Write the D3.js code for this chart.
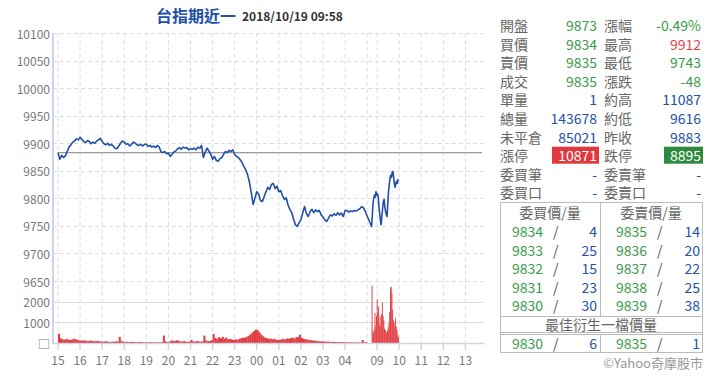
<!DOCTYPE html>
<html>
<head>
<meta charset="utf-8">
<title>台指期近一</title>
<script src="https://d3js.org/d3.v7.min.js"></script>
<style>
    body { margin: 0; background: #fff; }
    svg { display: block; font-family: "Noto Sans CJK TC", "Noto Sans", sans-serif; }
</style>
</head>
<body>
<div id="container"></div>
<script>
// Night session price, every 5 minutes from 15:00
const nightStart = "15:00"
const nightPrice = [
    9883, 9871, 9878, 9874, 9877, 9885, 9893, 9897, 9902, 9904, 9908, 9906,
    9911, 9907, 9903, 9901, 9905, 9903, 9899, 9902, 9900, 9904, 9906, 9909,
    9903, 9899, 9897, 9900, 9896, 9898, 9895, 9891, 9890, 9895, 9900, 9904,
    9902, 9898, 9899, 9895, 9898, 9902, 9900, 9897, 9896, 9898, 9895, 9898,
    9898, 9894, 9896, 9893, 9895, 9892, 9896, 9893, 9884, 9883, 9885, 9881,
    9882, 9876, 9880, 9884, 9886, 9890, 9892, 9889, 9893, 9891, 9892, 9888,
    9890, 9889, 9891, 9888, 9893, 9891, 9896, 9874, 9884, 9891, 9886, 9880,
    9871, 9876, 9869, 9867, 9872, 9874, 9880, 9885, 9883, 9887, 9885, 9888,
    9880, 9876, 9874, 9870, 9865, 9858, 9852, 9843, 9830, 9811, 9789, 9800,
    9812, 9808, 9796, 9794, 9803, 9812, 9820, 9816, 9825, 9827, 9818, 9822,
    9812, 9814, 9805, 9798, 9801, 9788, 9780, 9774, 9762, 9752, 9749, 9756,
    9761, 9774, 9785, 9772, 9767, 9776, 9780, 9774, 9779, 9776, 9778, 9770,
    9766, 9761, 9758, 9764, 9770, 9768, 9772, 9769, 9774, 9770, 9773, 9767,
    9778, 9778, 9775, 9777, 9776, 9778, 9777, 9779, 9781, 9785, 9783, 9776,
    9768
]
// Night session volume, every 5 minutes from 15:00
const nightVolume = [
    450, 220, 180, 150, 200, 170, 140, 160, 210, 180, 150, 130,
    120, 110, 130, 100, 90, 120, 100, 80, 90, 110, 80, 70,
    60, 70, 80, 60, 50, 70, 60, 80, 70, 300, 90, 60,
    50, 60, 40, 50, 60, 45, 40, 35, 50, 40, 30, 40,
    30, 35, 40, 30, 25, 35, 30, 40, 30, 360, 80, 40,
    60, 120, 100, 90, 130, 110, 80, 70, 100, 60, 50, 70,
    150, 80, 60, 100, 70, 60, 80, 360, 120, 90, 100, 130,
    440, 250, 200, 280, 230, 300, 220, 260, 180, 200, 170, 150,
    180, 150, 200, 230, 260, 250, 300, 350, 420, 500, 580, 650,
    620, 520, 400, 320, 260, 230, 200, 220, 180, 200, 160, 150,
    150, 180, 200, 170, 220, 200, 240, 260, 220, 280, 300, 400,
    240, 200, 180, 160, 150, 130, 120, 110, 100, 90, 80, 80,
    70, 60, 70, 60, 50, 60, 50, 45, 50, 40, 45, 40,
    30, 35, 30, 30, 25, 30, 25, 30, 25, 140, 30, 40
]
// Day session, every 2 minutes from 08:45
const dayStart = "08:45"
const dayPrice = [
    9749, 9770, 9792, 9800, 9806, 9802, 9812, 9806, 9808, 9803, 9785, 9772,
    9760, 9752, 9768, 9782, 9794, 9798, 9785, 9776, 9770, 9767, 9790, 9812,
    9825, 9836, 9842, 9838, 9847, 9849, 9838, 9826, 9820, 9828, 9831, 9827,
    9834, 9835
]
const dayVolume = [
    2780, 600, 500, 650, 1460, 800, 1300, 2100, 1500, 1760, 900, 1270,
    800, 1400, 1950, 1300, 1120, 700, 630, 550, 490, 600, 750, 975,
    1500, 2680, 2730, 2400, 1610, 1100, 800, 975, 1200, 780, 600, 390,
    300
]
const prevClose = 9883

const priceTicks = [10100, 10050, 10000, 9950, 9900, 9850, 9800, 9750, 9700, 9650]
const volumeTicks = [2000, 1000, 0]
const volumeTickLabels = ["2000", "1000", "□"]
const xTicks = ["15:00", "16:00", "17:00", "18:00", "19:00", "20:00", "21:00", "22:00", "23:00",
    "00:00", "01:00", "02:00", "03:00", "04:00", "09:00", "10:00", "11:00", "12:00", "13:00"]

const title = "台指期近一"
const stamp = "2018/10/19 09:58"

const infoLabelsL = ["開盤", "買價", "賣價", "成交", "單量", "總量", "未平倉", "漲停", "委買筆", "委買口"]
const infoValuesL = ["9873", "9834", "9835", "9835", "1", "143678", "85021", "10871", "-", "-"]
const infoLabelsR = ["漲幅", "最高", "最低", "漲跌", "約高", "約低", "昨收", "跌停", "委賣筆", "委賣口"]
const infoValuesR = ["-0.49%", "9912", "9743", "-48", "11087", "9616", "9883", "8895", "-", "-"]
const infoColorsL = ["g", "g", "g", "g", "b", "b", "b", "boxR", "b", "b"]
const infoColorsR = ["g", "r", "g", "g", "b", "b", "b", "boxG", "b", "b"]

const bidPrices = ["9834", "9833", "9832", "9831", "9830"]
const bidQty = ["4", "25", "15", "23", "30"]
const askPrices = ["9835", "9836", "9837", "9838", "9839"]
const askQty = ["14", "20", "22", "25", "38"]
const bestHeader = "最佳衍生一檔價量"
const bestBid = ["9830", "6"]
const bestAsk = ["9835", "1"]

// session minutes: night 15:00-05:00, short gap, day from 08:45
const toT = s => {
    const [h, m] = s.split(":").map(Number)
    if (h >= 15) return (h - 15) * 60 + m
    if (h < 8) return (h + 9) * 60 + m
    return 852 + (h * 60 + m - 525)
}

const w = 720, h = 376
const colors = { g: "#3b9a4b", r: "#e8424a", b: "#2352a8", grey: "#666" }

const svg = d3.select("#container").append("svg")
    .attr("width", w)
    .attr("height", h)

const xScale = d3.scaleLinear().domain([0, 1152]).range([58, 482])
const yScale = d3.scaleLinear().domain([9650, 10100]).range([281, 33])
const vScale = d3.scaleLinear().domain([0, 3000]).range([343, 281])

// build series
const t0 = toT(nightStart), d0 = toT(dayStart)
const priceData = nightPrice.map((v, i) => [t0 + i * 5, v])
    .concat(dayPrice.map((v, i) => [d0 + Math.min(i * 2, 73), v]))
const volData = nightVolume.map((v, i) => ({ t: t0 + i * 5, v: v, span: 5 }))
    .concat(dayVolume.map((v, i) => ({ t: d0 + i * 2, v: v, span: 2 })))

// Grid
const gridX = xTicks.map(toT).concat([toT("05:00")])
svg.append("g").selectAll("line").data(gridX).enter().append("line")
    .attr("x1", d => xScale(d)).attr("x2", d => xScale(d))
    .attr("y1", 33).attr("y2", 343)
    .attr("stroke", "#ddd").attr("stroke-dasharray", "4,3")

svg.append("g").selectAll("line").data(priceTicks).enter().append("line")
    .attr("x1", 53).attr("x2", 484)
    .attr("y1", d => Math.round(yScale(d)) + 0.5).attr("y2", d => Math.round(yScale(d)) + 0.5)
    .attr("stroke", "#ddd").attr("stroke-dasharray", "4,3")

svg.append("g").selectAll("line").data(volumeTicks.slice(0, 2)).enter().append("line")
    .attr("x1", 53).attr("x2", 484)
    .attr("y1", d => Math.round(vScale(d)) + 0.5).attr("y2", d => Math.round(vScale(d)) + 0.5)
    .attr("stroke", "#ddd")

// Axis labels
svg.append("g").selectAll("text").data(priceTicks).enter().append("text")
    .attr("x", 50).attr("y", d => yScale(d))
    .attr("text-anchor", "end").attr("dominant-baseline", "central")
    .attr("font-size", 12).attr("fill", "#777")
    .text(d => d)

svg.append("g").selectAll("text").data(volumeTicks).enter().append("text")
    .attr("x", 50).attr("y", d => vScale(d))
    .attr("text-anchor", "end").attr("dominant-baseline", "central")
    .attr("font-size", 12).attr("fill", "#777")
    .text((d, i) => volumeTickLabels[i])

// Volume bars
svg.append("g").selectAll("rect").data(volData).enter().append("rect")
    .attr("x", d => xScale(d.t))
    .attr("width", d => xScale(d.t + d.span) - xScale(d.t) + 0.2)
    .attr("y", d => vScale(d.v))
    .attr("height", d => vScale(0) - vScale(d.v))
    .attr("fill", "#e23c40")

// Previous close line
svg.append("line")
    .attr("x1", xScale(0)).attr("x2", 482)
    .attr("y1", yScale(prevClose)).attr("y2", yScale(prevClose))
    .attr("stroke", "#999").attr("stroke-width", 1.2)

// Price line
const line = d3.line().x(d => xScale(d[0])).y(d => yScale(d[1]))
svg.append("path")
    .datum(priceData)
    .attr("d", line)
    .attr("fill", "none")
    .attr("stroke", "#2150a8")
    .attr("stroke-width", 1.6)
    .attr("stroke-linejoin", "round")

// Axis lines
svg.append("line").attr("x1", 53).attr("x2", 53).attr("y1", 33).attr("y2", 344)
    .attr("stroke", "#cbd6ec").attr("stroke-width", 2)
svg.append("line").attr("x1", 53).attr("x2", 484).attr("y1", 343.5).attr("y2", 343.5)
    .attr("stroke", "#cbd6ec").attr("stroke-width", 1.5)

const xt = svg.append("g").selectAll("g").data(xTicks).enter().append("g")
    .attr("transform", d => "translate(" + xScale(toT(d)) + ",0)")
xt.append("line").attr("y1", 344).attr("y2", 350).attr("stroke", "#cbd6ec").attr("stroke-width", 1.5)
xt.append("text").attr("y", 359).attr("text-anchor", "middle").attr("dominant-baseline", "central")
    .attr("font-size", 12).attr("fill", "#777")
    .text(d => d.slice(0, 2))

// Title
const tt = svg.append("text").attr("x", 156).attr("y", 15).attr("dominant-baseline", "central")
tt.append("tspan").attr("font-size", 16).attr("font-weight", "bold").attr("fill", "#2150a8").text(title)
tt.append("tspan").attr("dx", 6).attr("font-size", 12).attr("font-weight", "bold").attr("fill", "#333").text(stamp)

// Info panel
const rowY = i => 25 + i * 18.6
const info = svg.append("g").attr("font-size", 14)
const drawValue = (x0, x1, y, val, c) => {
    if (c === "boxR" || c === "boxG") {
        info.append("rect").attr("x", x0).attr("y", y - 8.5).attr("width", x1 - x0 + 2).attr("height", 17)
            .attr("fill", c === "boxR" ? "#e0393e" : "#2e8b3e")
        info.append("text").attr("x", x1).attr("y", y).attr("text-anchor", "end")
            .attr("dominant-baseline", "central").attr("fill", "#fff").text(val)
    } else {
        info.append("text").attr("x", x1).attr("y", y).attr("text-anchor", "end")
            .attr("dominant-baseline", "central").attr("fill", colors[c]).text(val)
    }
}
infoLabelsL.forEach((lab, i) => {
    info.append("text").attr("x", 500).attr("y", rowY(i)).attr("dominant-baseline", "central")
        .attr("fill", colors.grey).text(lab)
    drawValue(552, 597, rowY(i), infoValuesL[i], infoColorsL[i])
    info.append("text").attr("x", 604).attr("y", rowY(i)).attr("dominant-baseline", "central")
        .attr("fill", colors.grey).text(infoLabelsR[i])
    drawValue(664, 701, rowY(i), infoValuesR[i], infoColorsR[i])
})

// Bid / ask table
const tb = svg.append("g").attr("font-size", 14)
tb.append("rect").attr("x", 500.5).attr("y", 202.5).attr("width", 202).attr("height", 150)
    .attr("fill", "none").attr("stroke", "#bbb")
tb.append("line").attr("x1", 600.5).attr("x2", 600.5).attr("y1", 202.5).attr("y2", 316.5).attr("stroke", "#bbb")
tb.append("line").attr("x1", 600.5).attr("x2", 600.5).attr("y1", 334).attr("y2", 352.5).attr("stroke", "#bbb")
tb.append("line").attr("x1", 500.5).attr("x2", 702.5).attr("y1", 316.5).attr("y2", 316.5).attr("stroke", "#bbb")
tb.append("line").attr("x1", 500.5).attr("x2", 702.5).attr("y1", 332.5).attr("y2", 332.5).attr("stroke", "#bbb")
tb.append("line").attr("x1", 500.5).attr("x2", 702.5).attr("y1", 334.5).attr("y2", 334.5).attr("stroke", "#bbb")

tb.append("text").attr("x", 550).attr("y", 212).attr("text-anchor", "middle").attr("dominant-baseline", "central")
    .attr("fill", colors.grey).text("委買價/量")
tb.append("text").attr("x", 651).attr("y", 212).attr("text-anchor", "middle").attr("dominant-baseline", "central")
    .attr("fill", colors.grey).text("委賣價/量")

const quoteRow = (y, bp, bq, ap, aq) => {
    tb.append("text").attr("x", 512).attr("y", y).attr("dominant-baseline", "central").attr("fill", colors.g).text(bp)
    tb.append("text").attr("x", 553).attr("y", y).attr("dominant-baseline", "central").attr("fill", "#555").text("/")
    tb.append("text").attr("x", 597).attr("y", y).attr("text-anchor", "end").attr("dominant-baseline", "central").attr("fill", colors.b).text(bq)
    tb.append("text").attr("x", 616).attr("y", y).attr("dominant-baseline", "central").attr("fill", colors.g).text(ap)
    tb.append("text").attr("x", 657).attr("y", y).attr("dominant-baseline", "central").attr("fill", "#555").text("/")
    tb.append("text").attr("x", 700).attr("y", y).attr("text-anchor", "end").attr("dominant-baseline", "central").attr("fill", colors.b).text(aq)
}
bidPrices.forEach((p, i) => quoteRow(231 + i * 18.5, p, bidQty[i], askPrices[i], askQty[i]))

tb.append("text").attr("x", 601).attr("y", 324).attr("text-anchor", "middle").attr("dominant-baseline", "central")
    .attr("fill", colors.grey).text(bestHeader)
quoteRow(343, bestBid[0], bestBid[1], bestAsk[0], bestAsk[1])

svg.append("text").attr("x", 703).attr("y", 362).attr("text-anchor", "end").attr("dominant-baseline", "central")
    .attr("font-size", 13).attr("fill", "#999").text("©Yahoo奇摩股市")
</script>
</body>
</html>
